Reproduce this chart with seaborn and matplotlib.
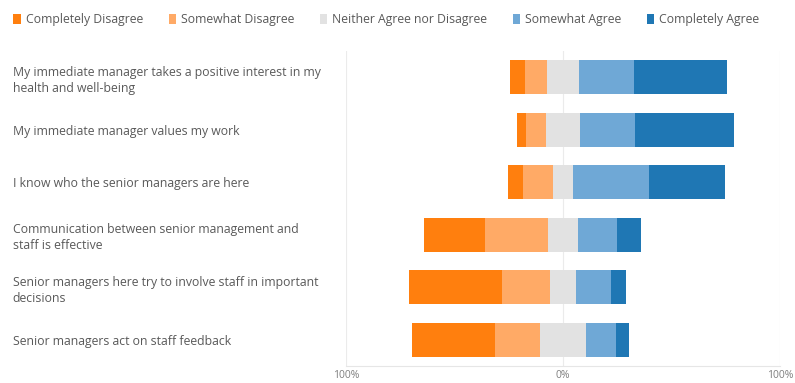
import matplotlib
matplotlib.use("Agg")
import matplotlib.pyplot as plt
import seaborn as sns
import pandas as pd
import numpy as np
from matplotlib.patches import Patch

questions = [
    "My immediate manager takes a positive interest in my\nhealth and well-being",
    "My immediate manager values my work",
    "I know who the senior managers are here",
    "Communication between senior management and\nstaff is effective",
    "Senior managers here try to involve staff in important\ndecisions",
    "Senior managers act on staff feedback",
]
completely_disagree = [7, 4, 7, 28, 43, 38]
somewhat_disagree = [10, 9, 14, 29, 22, 21]
neutral = [15, 16, 9, 14, 12, 21]
somewhat_agree = [25, 25, 35, 18, 16, 14]
completely_agree = [43, 46, 35, 11, 7, 6]

categories = ["Completely Disagree", "Somewhat Disagree", "Neither Agree nor Disagree",
              "Somewhat Agree", "Completely Agree"]
colors = ["#FF7F0E", "#FFAA66", "#E2E2E2", "#6FA8D6", "#1F77B4"]
tick_vals = [-100, 0, 100]
tick_labels = ["100%", "0%", "100%"]

plt.rcParams['font.family'] = ['Open Sans', 'DejaVu Sans']

df = pd.DataFrame({
    "q": questions,
    "cd": completely_disagree, "sd": somewhat_disagree, "n": neutral,
    "sa": somewhat_agree, "ca": completely_agree,
})
half_n = df["n"] / 2
layers = [
    (half_n + df["sa"] + df["ca"], colors[4]),
    (half_n + df["sa"], colors[3]),
    (-(half_n + df["sd"] + df["cd"]), colors[0]),
    (-(half_n + df["sd"]), colors[1]),
    (half_n, colors[2]),
    (-half_n, colors[2]),
]

fig = plt.figure(figsize=(7.95, 3.83), dpi=100)
ax = fig.add_axes([346 / 795, 1 - 366 / 383, (780 - 346) / 795, (366 - 51) / 383])

for x in tick_vals:
    ax.axvline(x, color="#EBEBEB", lw=0.8, zorder=0)

for vals, col in layers:
    sns.barplot(x=vals.values, y=df["q"], orient="h", color=col, width=0.65,
                saturation=1, linewidth=0, ax=ax, zorder=2)

ax.set_xlim(-100, 100)
ax.set_ylim(5.5, -0.5)
ax.set_xlabel("")
ax.set_ylabel("")
ax.set_xticks(tick_vals)
ax.set_xticklabels(tick_labels)
ax.tick_params(axis="x", length=0, pad=3, labelsize=7.5, labelcolor="#7F7F7F")
ax.tick_params(axis="y", length=0, pad=240, labelsize=8.8, labelcolor="#595959")
for lbl in ax.get_yticklabels():
    lbl.set_horizontalalignment("left")
    lbl.set_linespacing(1.3)
for s in ["top", "right", "left"]:
    ax.spines[s].set_visible(False)
ax.spines["bottom"].set_color("#E6E6E6")
ax.spines["bottom"].set_linewidth(0.8)

handles = [Patch(facecolor=c, edgecolor="none") for c in colors]
fig.legend(handles, categories, loc="upper left", bbox_to_anchor=(0.003, 0.995), ncol=5,
           frameon=False, fontsize=8.8, handlelength=0.6, handleheight=0.9,
           handletextpad=0.4, columnspacing=2.1, labelcolor="#595959")

fig.savefig("out.png", dpi=100, facecolor="white")
